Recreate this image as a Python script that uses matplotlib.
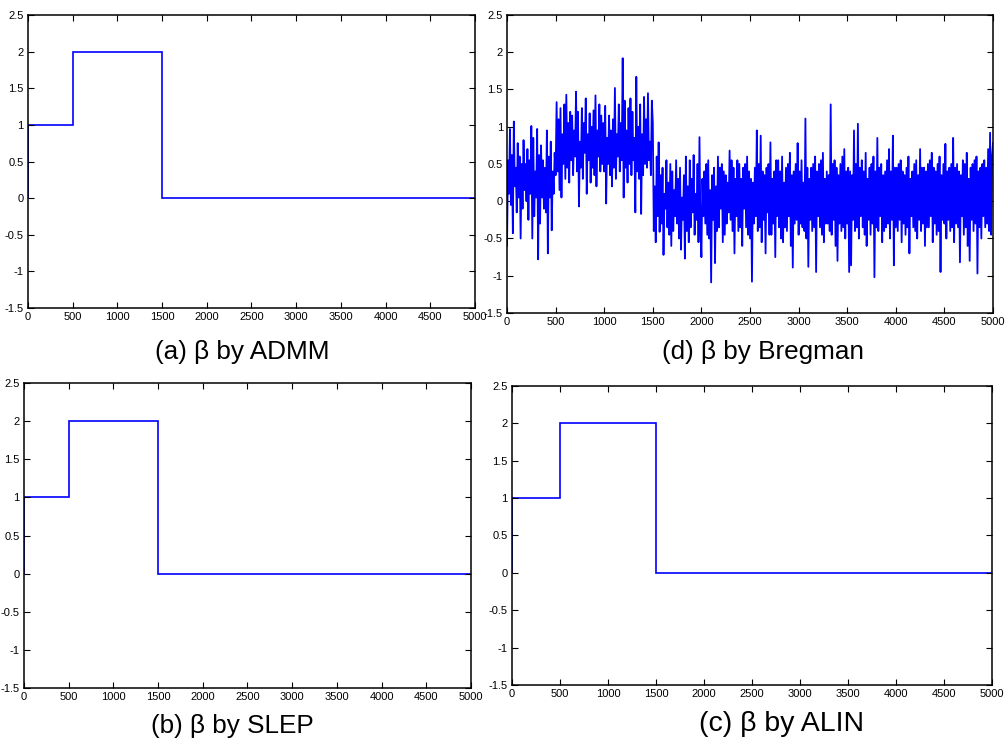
import matplotlib
matplotlib.use("Agg")
import matplotlib.pyplot as plt
import numpy as np

# --- data ---
# piecewise-constant estimates (ADMM, SLEP, ALIN): level on each interval
step_edges = [0, 500, 1500, 5000]
step_levels = [1, 2, 0]

# Bregman estimate, every 10 samples (0..5000)
bregman_step = 10
beta_bregman = [
    # 0 - 490
    -0.60, 0.55, 0.10, 0.97, -0.05, 0.62, -0.43, 1.07, 0.20, 0.45,
    -0.15, 0.78, 0.05, 0.60, -0.50, 0.50, -0.10, 0.82, 0.15, 0.50,
    0.00, 0.70, -0.25, 0.55, 0.10, 1.01, -0.50, 0.85, -0.20, 0.40,
    0.05, 0.97, -0.78, 0.62, -0.30, 0.75, 0.05, 0.55, -0.10, 0.45,
    -0.15, 0.95, -0.70, 0.60, 0.05, 0.80, -0.39, 0.40, 0.10, 0.65,
    # 500 - 990
    0.35, 1.33, 0.40, 1.10, 0.15, 1.25, 0.05, 0.90, 0.50, 1.30,
    0.30, 1.43, 0.45, 1.05, 0.25, 1.20, 0.55, 1.15, 0.35, 0.95,
    0.60, 1.47, 0.40, 1.20, -0.07, 0.80, 0.45, 1.25, 0.30, 1.05,
    0.65, 1.38, 0.10, 0.90, 0.55, 1.18, 0.25, 1.00, 0.45, 1.22,
    0.35, 1.42, 0.20, 0.95, 0.60, 1.30, 0.40, 1.15, 0.50, 1.05,
    # 1000 - 1490
    0.40, 1.28, -0.03, 0.85, 0.50, 1.15, 0.35, 0.95, 0.20, 1.10,
    0.45, 1.52, 0.30, 0.90, 0.60, 1.30, 0.40, 1.05, 0.55, 1.92,
    0.05, 1.35, 0.45, 0.95, 0.25, 1.25, 0.50, 1.38, 0.35, 1.20,
    0.55, 0.85, -0.15, 1.67, 0.40, 1.00, 0.30, 1.30, -0.17, 0.90,
    0.35, 1.40, 0.50, 1.10, 0.45, 1.45, 0.55, 0.80, 0.35, 1.35,
    # 1500 - 1990
    1.05, -0.40, 0.20, -0.55, 0.60, -0.20, 0.79, -0.41, 0.35, -0.30,
    0.45, -0.72, 0.10, -0.10, 0.55, -0.35, 0.25, -0.45, 0.50, -0.60,
    0.40, -0.40, 0.15, -0.20, 0.55, -0.30, 0.30, -0.50, 0.45, -0.65,
    0.05, -0.25, 0.35, -0.77, 0.60, -0.40, 0.20, -0.55, 0.55, -0.35,
    0.30, -0.15, 0.62, -0.45, 0.10, -0.25, 0.50, -0.55, 0.86, -0.35,
    # 2000 - 2490
    -0.75, 0.30, -0.20, 0.40, -0.30, 0.50, -0.45, 0.55, -0.50, 0.15,
    -1.09, 0.35, -0.25, 0.45, -0.83, 0.20, -0.40, 0.60, -0.35, 0.45,
    -0.10, 0.50, -0.55, 0.40, -0.45, 0.35, -0.30, 0.25, -0.15, 0.68,
    -0.25, 0.55, -0.40, 0.45, -0.70, 0.30, -0.20, 0.55, -0.40, 0.50,
    -0.35, 0.30, -0.60, 0.45, -0.10, 0.50, -0.35, 0.60, -0.45, 0.40,
    # 2500 - 2990
    -0.50, 0.30, -1.08, 0.25, -0.30, 0.45, -0.20, 0.95, -0.40, 0.50,
    -0.35, 0.88, -0.55, 0.40, -0.25, 0.35, -0.70, 0.45, -0.15, 0.50,
    -0.45, 0.79, -0.45, 0.30, -0.30, 0.40, -0.75, 0.55, -0.20, 0.55,
    -0.35, 0.40, -0.50, 0.60, -0.55, 0.25, -0.35, 0.45, -0.40, 0.50,
    -0.20, 0.65, -0.60, 0.35, -0.89, 0.40, -0.30, 0.50, -0.25, 0.78,
    # 3000 - 3490
    -0.45, 0.40, -0.30, 0.55, -0.35, 0.25, -0.40, 1.11, -0.50, 0.45,
    -0.88, 0.30, -0.25, 0.45, -0.40, 0.50, -0.35, 0.60, -0.95, 0.40,
    -0.20, 0.50, -0.35, 0.55, -0.45, 0.65, -0.55, 0.30, -0.30, 0.40,
    -0.30, 0.35, -0.40, 1.30, -0.45, 0.50, -0.25, 0.55, -0.60, 0.45,
    -0.80, 0.35, -0.30, 0.50, -0.40, 0.60, -0.35, 0.70, -0.50, 0.40,
    # 3500 - 3990
    -0.30, 0.45, -0.95, 0.40, -0.86, 0.35, -0.25, 0.95, -0.40, 0.50,
    -0.35, 1.04, -0.50, 0.45, -0.20, 0.55, -0.35, 0.40, -0.45, 0.65,
    -0.60, 0.30, -0.25, 0.45, -0.45, 0.50, -0.30, 0.60, -1.02, 0.40,
    -0.35, 0.85, -0.40, 0.45, -0.20, 0.50, -0.55, 0.35, -0.40, 0.40,
    -0.35, 0.55, -0.30, 0.70, -0.50, 0.40, -0.25, 0.88, -0.86, 0.45,
    # 4000 - 4490
    -0.35, 0.45, -0.40, 0.50, -0.25, 0.55, -0.55, 0.40, -0.30, 0.35,
    -0.45, 0.45, -0.35, 0.60, -0.70, 0.30, -0.20, 0.40, -0.35, 0.50,
    -0.40, 0.55, -0.50, 0.35, -0.25, 0.70, -0.40, 0.45, -0.30, 0.45,
    -0.60, 0.40, -0.35, 0.50, -0.35, 0.55, -0.20, 0.65, -0.55, 0.45,
    -0.30, 0.40, -0.45, 0.50, -0.40, 0.60, -0.95, 0.35, -0.25, 0.50,
    # 4500 - 5000
    -0.30, 0.77, -0.50, 0.40, -0.25, 0.45, -0.40, 0.50, -0.35, 0.85,
    -0.55, 0.45, -0.30, 0.50, -0.35, 0.40, -0.82, 0.35, -0.20, 0.55,
    -0.45, 0.50, -0.35, 0.65, -0.60, 0.30, -0.80, 0.45, -0.25, 0.50,
    -0.40, 0.55, -0.30, 0.60, -0.97, 0.40, -0.35, 0.45, -0.50, 0.50,
    -0.20, 0.55, -0.35, 0.45, -0.30, 0.70, -0.40, 0.92, -0.45, 0.60,
    0.78,
]

captions = ["(a) \u03b2 by ADMM", "(d) \u03b2 by Bregman", "(b) \u03b2 by SLEP", "(c) \u03b2 by ALIN"]
x_ticks = [0, 500, 1000, 1500, 2000, 2500, 3000, 3500, 4000, 4500, 5000]
y_ticks = [-1.5, -1, -0.5, 0, 0.5, 1, 1.5, 2, 2.5]

tick_font = ["Liberation Sans Narrow", "Liberation Sans", "DejaVu Sans"]
cap_font = ["Liberation Sans", "DejaVu Sans"]

fig = plt.figure(figsize=(10.07, 7.41), dpi=100)

# axes rectangles in figure fractions
rects = [
    [0.0278, 0.5843, 0.4439, 0.3954],   # (a)
    [0.5035, 0.5776, 0.4826, 0.4022],   # (d)
    [0.0238, 0.0715, 0.4439, 0.4116],   # (b)
    [0.5084, 0.0756, 0.4767, 0.4035],   # (c)
]
cap_pos = [(0.241, 1 - 352 / 741), (0.758, 1 - 352 / 741),
           (0.231, 1 - 726 / 741), (0.776, 1 - 724 / 741)]
cap_size = [18.8, 18.8, 18.8, 20.5]

axes = [fig.add_axes(r) for r in rects]

for i, ax in enumerate(axes):
    if i == 1:
        xb = np.arange(len(beta_bregman)) * bregman_step
        ax.plot(xb, beta_bregman, color="#0000ff", lw=1.3)
    else:
        ax.stairs(step_levels, step_edges, baseline=0, color="#0000ff", lw=1.2)

    ax.set_xlim(0, 5000)
    ax.set_ylim(-1.5, 2.5)
    ax.set_xticks(x_ticks)
    ax.set_yticks(y_ticks)
    ax.set_xticklabels([str(t) for t in x_ticks])
    ax.set_yticklabels([f"{t:g}" for t in y_ticks])
    ax.tick_params(direction="in", top=True, right=True, length=4, width=0.8,
                   labelsize=8, pad=3)
    for lab in ax.get_xticklabels() + ax.get_yticklabels():
        lab.set_family(tick_font)
    for sp in ax.spines.values():
        sp.set_linewidth(1.1)

    fig.text(cap_pos[i][0], cap_pos[i][1], captions[i], ha="center", va="center",
             fontsize=cap_size[i], family=cap_font)

fig.savefig("out.png", dpi=100)
